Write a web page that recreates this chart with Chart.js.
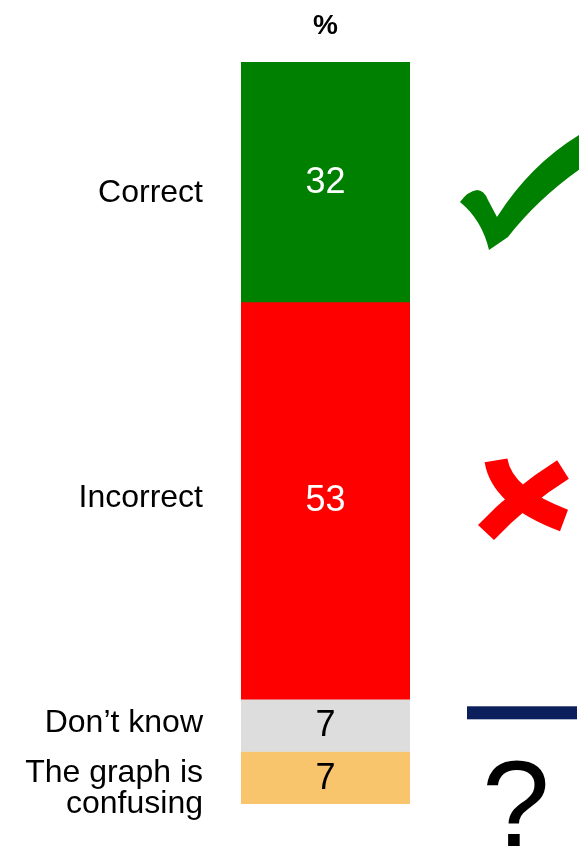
<!DOCTYPE html>
<html>
<head>
<meta charset="utf-8">
<script src="https://cdn.jsdelivr.net/npm/chart.js@4/dist/chart.umd.min.js"></script>
<style>
  body { margin: 0; background: #fff; }
  #wrap { width: 579px; height: 850px; }
</style>
</head>
<body>
<div id="wrap"><canvas id="chart" width="579" height="850"></canvas></div>
<script>
// data
var categories = ['Correct', 'Incorrect', 'Don\u2019t know', ['The graph is', 'confusing']];
var values = [32, 53, 7, 7];
var colors = ['#008000', '#ff0000', '#dddddd', '#f8c46c'];
var valueColors = ['#ffffff', '#ffffff', '#000000', '#000000'];
var unitLabel = '%';

var FONT = '"Liberation Sans", Arial, Helvetica, sans-serif';

var total = values.reduce(function(a, b){ return a + b; }, 0);

var datasets = values.map(function(v, i){
  return {
    label: Array.isArray(categories[i]) ? categories[i].join(' ') : categories[i],
    data: [v],
    backgroundColor: colors[i],
    borderWidth: 0,
    barPercentage: 1,
    categoryPercentage: 1
  };
});

// icons, drawn relative to (right edge of bar, segment centre)
function drawCheck(ctx, x, y) {
  ctx.fillStyle = '#008000';
  ctx.beginPath();
  ctx.moveTo(x + 50, y + 20);
  ctx.quadraticCurveTo(x + 58, y + 9, x + 67, y + 8);
  ctx.quadraticCurveTo(x + 74, y + 8, x + 78, y + 18);
  ctx.lineTo(x + 87, y + 35);
  ctx.quadraticCurveTo(x + 125, y - 25, x + 185, y - 56);
  ctx.lineTo(x + 190, y - 26);
  ctx.quadraticCurveTo(x + 135, y + 8, x + 98, y + 55);
  ctx.lineTo(x + 79, y + 68);
  ctx.quadraticCurveTo(x + 72, y + 38, x + 50, y + 20);
  ctx.closePath();
  ctx.fill();
}

function drawCross(ctx, x, y) {
  ctx.strokeStyle = '#ff0000';
  ctx.lineCap = 'butt';
  ctx.lineWidth = 23;
  ctx.beginPath();
  ctx.moveTo(x + 86, y - 40);
  ctx.quadraticCurveTo(x + 92, y - 3, x + 154, y + 20);
  ctx.stroke();
  ctx.lineWidth = 22;
  ctx.beginPath();
  ctx.moveTo(x + 153, y - 31);
  ctx.quadraticCurveTo(x + 110, y - 4, x + 76, y + 32);
  ctx.stroke();
}

var labelsPlugin = {
  id: 'labelsPlugin',
  afterDatasetsDraw: function(chart) {
    var ctx = chart.ctx;
    var area = chart.chartArea;
    var yScale = chart.scales.y;
    var midX = (area.left + area.right) / 2;
    ctx.save();
    ctx.textBaseline = 'middle';

    // header
    ctx.fillStyle = '#000';
    ctx.textAlign = 'center';
    ctx.font = 'bold 28px ' + FONT;
    ctx.fillText(unitLabel, midX, area.top - 36);

    var start = 0;
    values.forEach(function(v, i){
      var y0 = yScale.getPixelForValue(start);
      var y1 = yScale.getPixelForValue(start + v);
      var cy = (y0 + y1) / 2;
      start += v;

      // value inside bar
      ctx.font = '36px ' + FONT;
      ctx.textAlign = 'center';
      ctx.fillStyle = valueColors[i];
      ctx.fillText(String(v), midX, cy + 1);

      // category label on the left
      ctx.fillStyle = '#000';
      ctx.textAlign = 'right';
      ctx.font = '32px ' + FONT;
      var lines = Array.isArray(categories[i]) ? categories[i] : [categories[i]];
      var lh = 31;
      var off = i === 0 ? 11 : (i === 3 ? 11 : -2);
      lines.forEach(function(t, k){
        ctx.fillText(t, area.left - 38, cy + off + (k - (lines.length - 1) / 2) * lh);
      });

      // icons on the right
      if (i === 0) {
        drawCheck(ctx, area.right, cy);
      } else if (i === 1) {
        drawCross(ctx, area.right, cy);
      } else if (i === 2) {
        ctx.fillStyle = '#0a1f5c';
        ctx.fillRect(area.right + 57, cy - 19, 110, 13);
      } else {
        ctx.fillStyle = '#000';
        ctx.textAlign = 'center';
        ctx.textBaseline = 'alphabetic';
        ctx.font = '122px ' + FONT;
        ctx.fillText('?', area.right + 106, cy + 68);
        ctx.textBaseline = 'middle';
      }
    });
    ctx.restore();
  }
};

var chart = new Chart(document.getElementById('chart'), {
  type: 'bar',
  data: { labels: [unitLabel], datasets: datasets },
  options: {
    responsive: false,
    animation: false,
    layout: { padding: { left: 241, right: 169, top: 62, bottom: 46 } },
    plugins: {
      legend: { display: false },
      tooltip: { enabled: false }
    },
    scales: {
      x: { stacked: true, display: false },
      y: { stacked: true, display: false, reverse: true, min: 0, max: total }
    }
  },
  plugins: [labelsPlugin]
});
</script>
</body>
</html>
